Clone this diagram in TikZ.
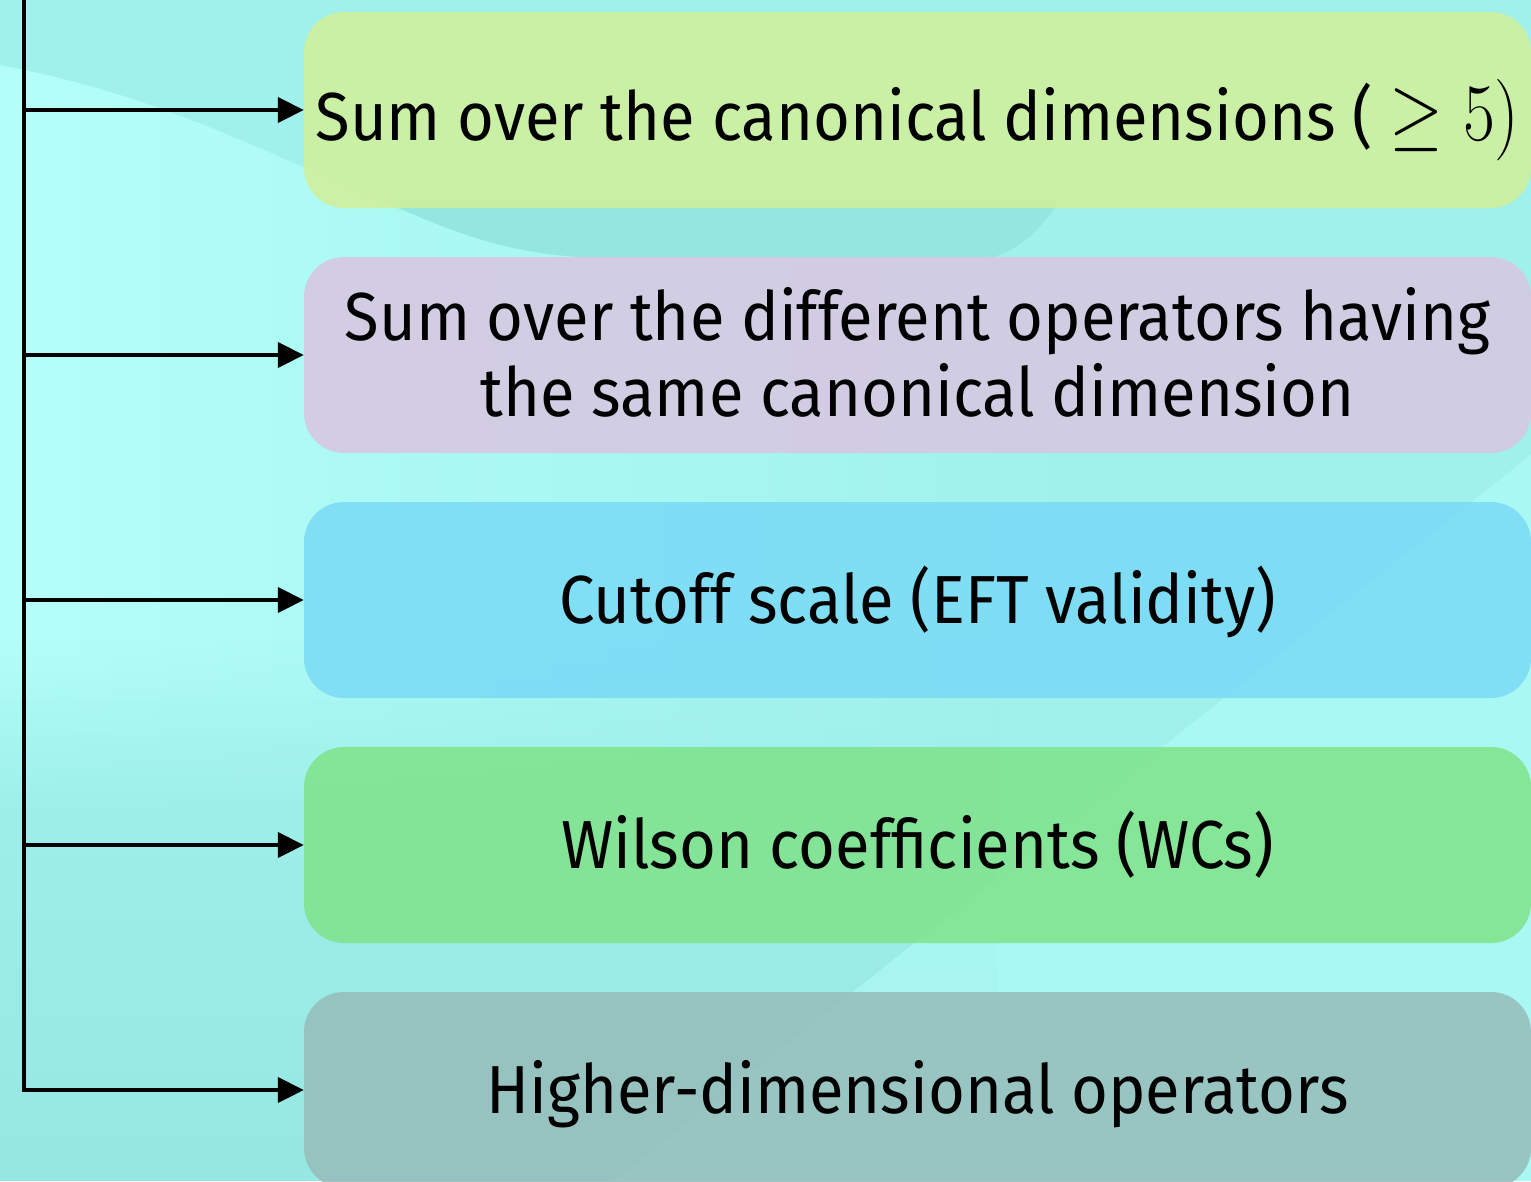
\documentclass[tikz,border=0pt]{standalone}
\usepackage{fix-cm}
\usepackage[no-math]{fontspec}
\setmainfont[FakeStretch=0.93]{Fira Sans}
\usetikzlibrary{arrows.meta,fadings}
\definecolor{bgbase}{HTML}{A0F1EC}
\definecolor{bglight}{HTML}{B4FFF9}
\definecolor{bgdark}{HTML}{94E6E0}
\definecolor{bgdeep}{HTML}{97E8E3}
\definecolor{cone}{HTML}{D2F099}
\definecolor{ctwo}{HTML}{D9C6E1}
\definecolor{cthree}{HTML}{79DAF6}
\definecolor{cfour}{HTML}{7FE389}
\definecolor{cfive}{HTML}{96BCBA}
\tikzset{
  itembox/.style={rounded corners=40pt, minimum width=1227pt, minimum height=196pt,
    inner sep=0pt, fill opacity=0.85, text opacity=1, align=center,
    font=\fontsize{68}{76}\selectfont, text height=46pt, text depth=0pt},
  arr/.style={line width=4pt, black, -{Triangle[length=26pt,width=25pt]}}
}
\begin{document}
\begin{tikzpicture}[x=1pt,y=-1pt]
\useasboundingbox (0,0) rectangle (1531,1181);
% background
\fill[bgbase] (0,0) rectangle (1531,1181);
\fill[bglight, path fading=east] (0,65) .. controls (160,95) and (260,150) .. (380,200)
  .. controls (460,235) and (510,255) .. (600,258) -- (1100,258) -- (1100,820) -- (0,820) -- cycle;
\fill[bgbase, path fading=north] (0,640) rectangle (1100,822);
\fill[bgdeep, path fading=north] (0,700) rectangle (1000,1181);
\fill[bgdark] (380,200) .. controls (460,235) and (510,255) .. (600,258) -- (990,258)
  .. controls (1020,250) and (1040,230) .. (1060,200) -- cycle;
\fill[bglight, opacity=0.55] (1531,455) -- (1531,1181) -- (614,1181) -- cycle;
% boxes
\node[itembox, fill=cone, text height=60pt] (b1) at (917.5,110) {Sum over the canonical dimensions (\ \scalebox{1.02}[1.2]{$\geq 5)$}};
\node[itembox, fill=ctwo, text height=122pt] (b2) at (917.5,355) {Sum over the different operators having\\the same canonical dimension};
\node[itembox, fill=cthree] (b3) at (917.5,600) {Cutoff scale (EFT validity)};
\node[itembox, fill=cfour] (b4) at (917.5,845) {Wilson coefficients (WCs)};
\node[itembox, fill=cfive] (b5) at (917.5,1090) {Higher-dimensional operators};
% connectors
\coordinate (top) at (24,-5);
\coordinate (j1) at (24,110);
\coordinate (j2) at (24,355);
\coordinate (j3) at (24,600);
\coordinate (j4) at (24,845);
\coordinate (j5) at (24,1090);
\draw[arr, line join=miter] (top) -- (j5) -- (b5.west);
\draw[arr] (j1) -- (b1.west);
\draw[arr] (j2) -- (b2.west);
\draw[arr] (j3) -- (b3.west);
\draw[arr] (j4) -- (b4.west);
\end{tikzpicture}
\end{document}
